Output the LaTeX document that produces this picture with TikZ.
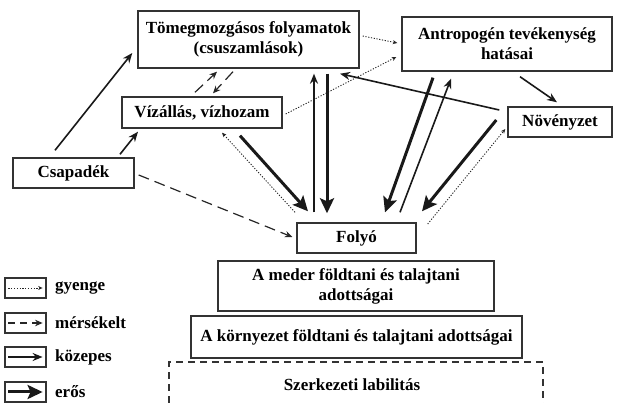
\documentclass[tikz,border=0pt]{standalone}
\usepackage{fontspec}
\setmainfont{Liberation Serif}
\usetikzlibrary{arrows.meta}
\begin{document}
\begin{tikzpicture}[x=1pt,y=-1pt,
  box/.style={draw=black!80,line width=1.4pt,inner sep=0pt,align=center,
    font=\fontsize{17}{20}\selectfont\bfseries},
  legbox/.style={draw=black!80,line width=1.2pt,minimum width=41pt,minimum height=20pt,inner sep=0pt},
  leglabel/.style={right,inner sep=0pt,font=\fontsize{17}{20}\selectfont\bfseries},
  gyenge/.style={black!85,dash pattern=on 1.2pt off 1.6pt,line width=0.9pt,-{Stealth[length=4.5pt,width=4pt]}},
  merseklet/.style={black!85,dash pattern=on 11pt off 6pt,line width=1.2pt,-{Stealth[length=7.5pt,width=6.5pt]}},
  kozepes/.style={black!90,line width=1.6pt,-{Stealth[length=10pt,width=8pt]}},
  eros/.style={black!90,line width=3pt,-{Stealth[length=15pt,width=14pt,inset=3pt]}}]
\useasboundingbox (0,0) rectangle (619,403);
%\draw[step=50,blue!20,thin] (0,0) grid (619,403);
  % Draw boxes
  \node[box,minimum width=221pt,minimum height=57pt] (tomeg) at (248.5,39.5)
        {Tömegmozgásos folyamatok\\(csuszamlások)};
  \node[box,minimum width=210pt,minimum height=54pt] (antro) at (507,44)
        {Antropogén tevékenység\\hatásai};
  \node[box,minimum width=160pt,minimum height=31pt] (viz)    at (202,112.5) {Vízállás, vízhozam};
  \node[box,minimum width=104pt,minimum height=30pt] (noveny) at (560,122)   {Növényzet};
  \node[box,minimum width=121pt,minimum height=30pt] (csap)   at (73.5,173)  {Csapadék};
  \node[box,minimum width=119pt,minimum height=30pt] (folyo)  at (356.5,238) {Folyó};
  \node[box,minimum width=276pt,minimum height=50pt] (meder)  at (356,286)
        {A meder földtani és talajtani\\adottságai};
  \node[box,minimum width=331pt,minimum height=42pt] (korny)  at (356.5,337)
        {A környezet földtani és talajtani adottságai};
  % Draw open dashed box
  \draw[black!80,line width=1.3pt,dash pattern=on 7pt off 5pt] (169,403) |- (543,362) -- (543,403);
  \node[box,draw=none] (szerk) at (352,385) {Szerkezeti labilitás};

  % Draw weak arrows
  \draw[gyenge] ([shift={(3,1.5)}]viz.east)      -- ([shift={(-5,13)}]antro.west);
  \draw[gyenge] ([shift={(3,-3.5)}]tomeg.east)   -- ([shift={(-4,-1)}]antro.west);
  \draw[gyenge] ([shift={(-61.5,-10)}]folyo.north) -- ([shift={(20,4)}]viz.south);
  \draw[gyenge] ([shift={(11,-14)}]folyo.east)   -- ([shift={(-2,7)}]noveny.west);
  % Draw moderate arrows
  \draw[merseklet] ([shift={(4,2)}]csap.east)     -- ([shift={(-4,-1)}]folyo.west);
  \draw[merseklet] ([shift={(-7,-4)}]viz.north)   -- ([shift={(-31.5,3)}]tomeg.south);
  \draw[merseklet] ([shift={(-15.5,3)}]tomeg.south) -- ([shift={(11,-3)}]viz.north);
  % Draw medium arrows
  \draw[kozepes] ([shift={(-18.5,-7)}]csap.north) -- ([shift={(-5,13.5)}]tomeg.west);
  \draw[kozepes] ([shift={(46.5,-3)}]csap.north)  -- ([shift={(-64,3)}]viz.south);
  \draw[kozepes] ([shift={(-42.5,-10)}]folyo.north) -- ([shift={(65.5,5)}]tomeg.south);
  \draw[kozepes] ([shift={(43.5,-10)}]folyo.north)  -- ([shift={(-56,7)}]antro.south);
  \draw[kozepes] ([shift={(-8,-12)}]noveny.west)  -- ([shift={(91.5,5)}]tomeg.south);
  \draw[kozepes] ([shift={(13,5)}]antro.south)    -- ([shift={(-3,-4)}]noveny.north);
  % Draw strong arrows
  \draw[eros] ([shift={(38,7)}]viz.south)        -- ([shift={(-48.5,-11)}]folyo.north);
  \draw[eros] ([shift={(78.5,5)}]tomeg.south)    -- ([shift={(-29.5,-9)}]folyo.north);
  \draw[eros] ([shift={(-74,6)}]antro.south)     -- ([shift={(28.5,-10)}]folyo.north);
  \draw[eros] ([shift={(-11,-2)}]noveny.west)    -- ([shift={(65.5,-11)}]folyo.north);

  % Draw legend
  \node[legbox] (lgyenge)    at (25.5,288) {};
  \node[legbox] (lmerseklet) at (25.5,323) {};
  \node[legbox] (lkozepes)   at (25.5,357) {};
  \node[legbox] (leros)      at (25.5,392) {};
  \draw[gyenge]    ([xshift=4pt]lgyenge.west)    -- ([xshift=-4pt]lgyenge.east);
  \draw[merseklet,dash pattern=on 7pt off 5pt] ([xshift=4pt]lmerseklet.west) -- ([xshift=-4pt]lmerseklet.east);
  \draw[kozepes]   ([xshift=4pt]lkozepes.west)   -- ([xshift=-4pt]lkozepes.east);
  \draw[eros]      ([xshift=4pt]leros.west)      -- ([xshift=-4pt]leros.east);
  \node[leglabel] (tgyenge)    at (55,288) {gyenge};
  \node[leglabel] (tmerseklet) at (55,323) {mérsékelt};
  \node[leglabel] (tkozepes)   at (55,357) {közepes};
  \node[leglabel] (teros)      at (55,392) {erős};
\end{tikzpicture}
\end{document}
